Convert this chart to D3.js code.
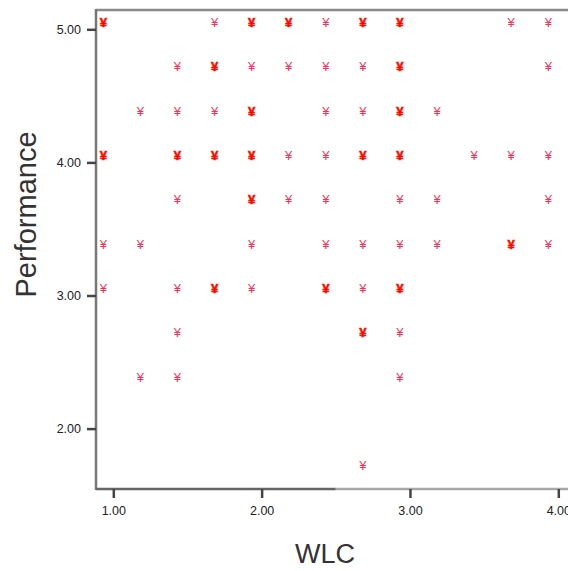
<!DOCTYPE html>
<meta charset="utf-8">
<head>
    <script src="https://d3js.org/d3.v7.min.js"></script>
    <style>
        body {
            margin: 0;
            background: #fff;
        }

        .tick-label {
            font: 12.5px "Liberation Sans", Arial, sans-serif;
            fill: #222;
        }

        .axis-title {
            font-family: "Liberation Sans", Arial, sans-serif;
            fill: #333;
        }

        .mark {
            font-family: "Liberation Sans", Arial, sans-serif;
            font-size: 13px;
            text-anchor: middle;
        }
    </style>
    <title>WLC vs Performance</title>
</head>
<body>

<svg id="chart" width="568" height="571"></svg>

<script>

    // scatter points: WLC, Performance, number of overlapping cases
    var wlc = [
        1.00, 1.75, 2.00, 2.25, 2.50, 2.75, 3.00, 3.75, 4.00,
        1.50, 1.75, 2.00, 2.25, 2.50, 2.75, 3.00, 4.00,
        1.25, 1.50, 1.75, 2.00, 2.50, 2.75, 3.00, 3.25,
        1.00, 1.50, 1.75, 2.00, 2.25, 2.50, 2.75, 3.00, 3.50, 3.75, 4.00,
        1.50, 2.00, 2.25, 2.50, 3.00, 3.25, 4.00,
        1.00, 1.25, 2.00, 2.50, 2.75, 3.00, 3.25, 3.75, 4.00,
        1.00, 1.50, 1.75, 2.00, 2.50, 2.75, 3.00,
        1.50, 2.75, 3.00,
        1.25, 1.50, 3.00,
        2.75
    ];
    var performance = [
        5.00, 5.00, 5.00, 5.00, 5.00, 5.00, 5.00, 5.00, 5.00,
        4.67, 4.67, 4.67, 4.67, 4.67, 4.67, 4.67, 4.67,
        4.33, 4.33, 4.33, 4.33, 4.33, 4.33, 4.33, 4.33,
        4.00, 4.00, 4.00, 4.00, 4.00, 4.00, 4.00, 4.00, 4.00, 4.00, 4.00,
        3.67, 3.67, 3.67, 3.67, 3.67, 3.67, 3.67,
        3.33, 3.33, 3.33, 3.33, 3.33, 3.33, 3.33, 3.33, 3.33,
        3.00, 3.00, 3.00, 3.00, 3.00, 3.00, 3.00,
        2.67, 2.67, 2.67,
        2.33, 2.33, 2.33,
        1.67
    ];
    var cases = [
        2, 1, 2, 2, 1, 2, 2, 1, 1,
        1, 2, 1, 1, 1, 1, 2, 1,
        1, 1, 1, 2, 1, 1, 2, 1,
        2, 2, 2, 2, 1, 1, 2, 2, 1, 1, 1,
        1, 2, 1, 1, 1, 1, 1,
        1, 1, 1, 1, 1, 1, 1, 2, 1,
        1, 1, 2, 1, 2, 1, 2,
        1, 2, 1,
        1, 1, 1,
        1
    ];

    var xTicks = [1, 2, 3, 4];
    var yTicks = [2, 3, 4, 5];

    var svg = d3.select("#chart");

    var frame = {left: 96, top: 10, bottom: 489, right: 600};

    var x = d3.scaleLinear()
        .domain([1, 4])
        .range([113.3, 558.3]);

    var y = d3.scaleLinear()
        .domain([2, 5])
        .range([428.6, 29.3]);

    // plot frame
    svg.append("line")
        .attr("x1", frame.left).attr("x2", frame.right)
        .attr("y1", frame.top).attr("y2", frame.top)
        .attr("stroke", "#8a8a8a").attr("stroke-width", 2.5);

    svg.append("line")
        .attr("x1", frame.left).attr("x2", frame.left)
        .attr("y1", frame.top - 1).attr("y2", frame.bottom + 1)
        .attr("stroke", "#777").attr("stroke-width", 2.5);

    svg.append("line")
        .attr("x1", frame.left).attr("x2", x(2.5))
        .attr("y1", frame.bottom).attr("y2", frame.bottom)
        .attr("stroke", "#666").attr("stroke-width", 2.5);

    svg.append("line")
        .attr("x1", x(2.5)).attr("x2", frame.right)
        .attr("y1", frame.bottom).attr("y2", frame.bottom)
        .attr("stroke", "#a8a8a8").attr("stroke-width", 2.5);

    // y axis
    var yAxis = svg.append("g")
        .attr("transform", "translate(" + frame.left + ",0)")
        .call(d3.axisLeft(y).tickValues(yTicks).tickSize(9).tickPadding(6)
            .tickFormat(d3.format(".2f")));
    yAxis.select(".domain").remove();
    yAxis.selectAll(".tick line").attr("stroke", "#444").attr("stroke-width", 2.5);
    yAxis.selectAll(".tick text").attr("class", "tick-label").attr("fill", null);

    // x axis
    var xAxis = svg.append("g")
        .attr("transform", "translate(0," + frame.bottom + ")")
        .call(d3.axisBottom(x).tickValues(xTicks).tickSize(9).tickPadding(8)
            .tickFormat(d3.format(".2f")));
    xAxis.select(".domain").remove();
    xAxis.selectAll(".tick line").attr("stroke", "#444").attr("stroke-width", 2.5);
    xAxis.selectAll(".tick text").attr("class", "tick-label").attr("fill", null);

    // axis titles
    svg.append("text")
        .attr("class", "axis-title")
        .attr("font-size", 27)
        .attr("text-anchor", "middle")
        .attr("x", (frame.left + 568) / 2 - 7)
        .attr("y", 563)
        .text("WLC");

    svg.append("text")
        .attr("class", "axis-title")
        .attr("font-size", 29)
        .attr("text-anchor", "middle")
        .attr("transform", "translate(36," + ((frame.top + frame.bottom) / 2 - 35) + ") rotate(-90)")
        .text("Performance");

    // markers (glyph sits up and left of its value, as in the original output)
    var points = wlc.map(function (d, i) {
        return {x: d, y: performance[i], n: cases[i]};
    });

    svg.append("g")
        .selectAll("text")
        .data(points)
        .enter().append("text")
        .attr("class", "mark")
        .attr("x", function (d) { return x(d.x) - 10; })
        .attr("y", function (d) { return y(d.y) - 2.5; })
        .attr("fill", function (d) { return d.n > 1 ? "#ff0000" : "#f5335a"; })
        .attr("stroke", function (d) { return d.n > 1 ? "#ff1a00" : "none"; })
        .attr("stroke-width", 0.6)
        .attr("font-weight", function (d) { return d.n > 1 ? "bold" : "normal"; })
        .text("¥");

</script>
</body>
